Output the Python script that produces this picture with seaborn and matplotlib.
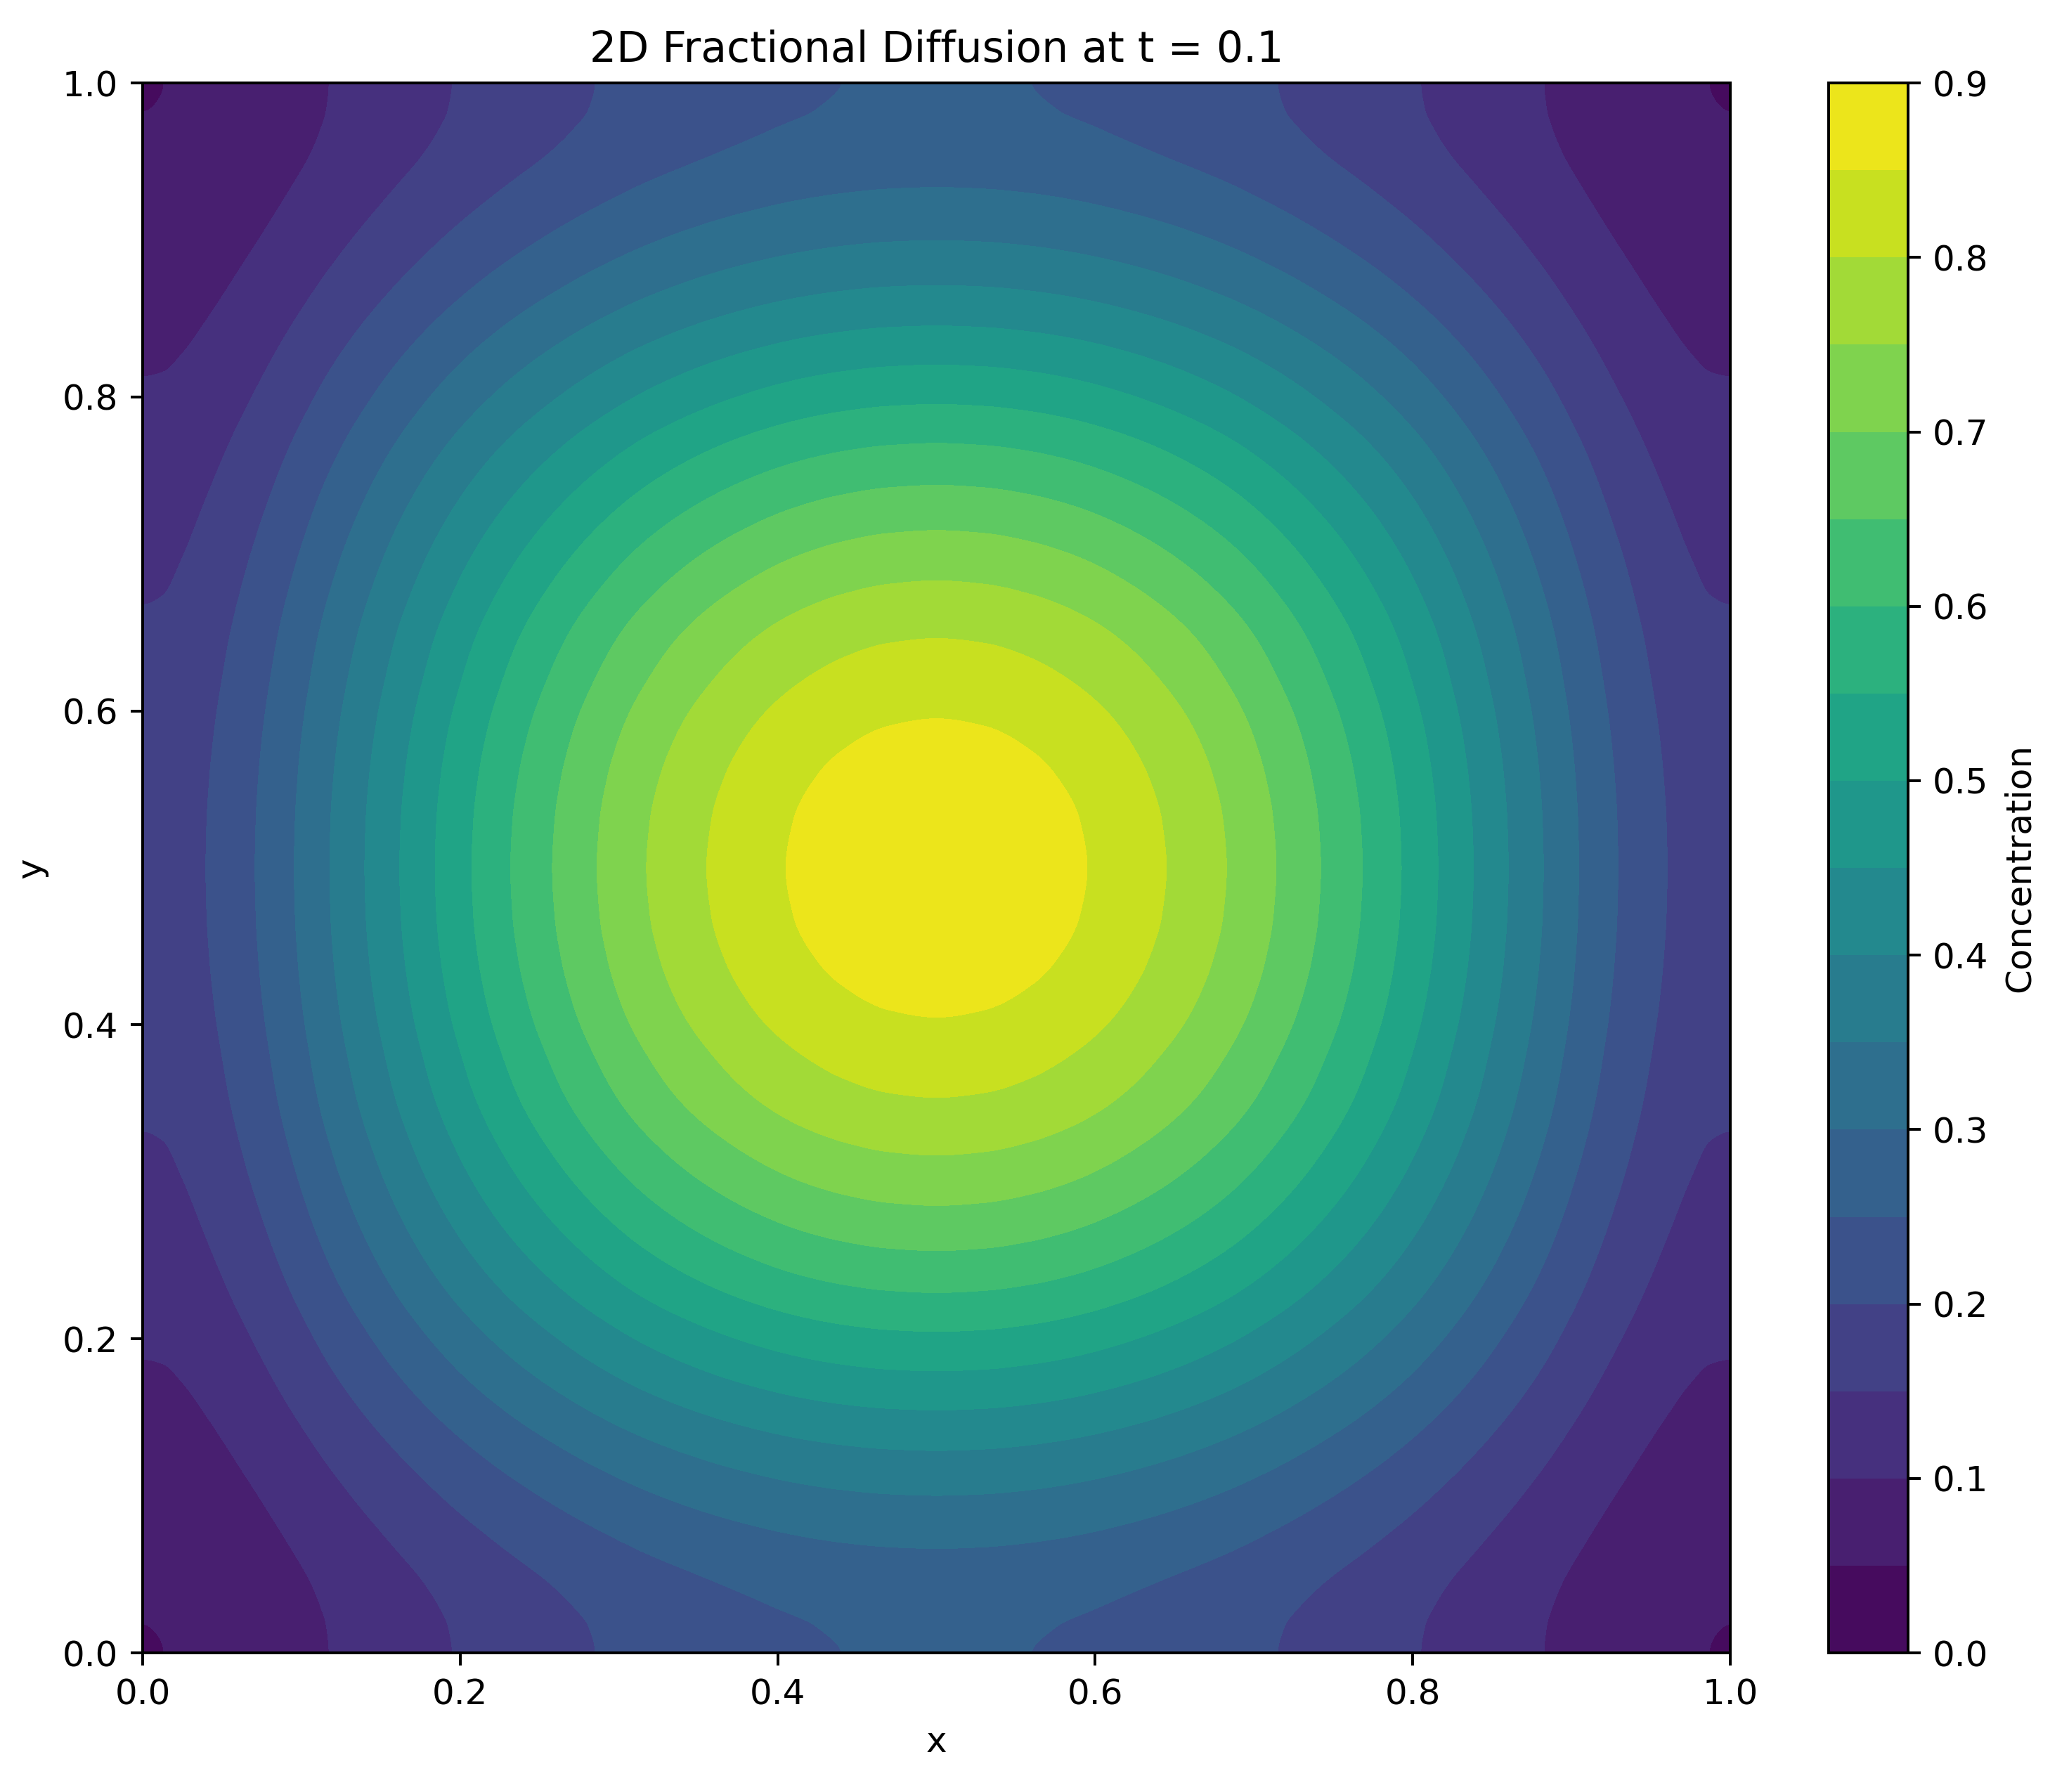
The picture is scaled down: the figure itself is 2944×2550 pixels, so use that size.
import numpy as np
import matplotlib
matplotlib.use("Agg")
import matplotlib.pyplot as plt
import seaborn as sns

# Concentration read off the picture along the centre row (y = 0.5),
# given by distance from x = 0.5 (contour crossings plus flat top / edge values)
row_offset = [0.0, 0.03, 0.06, 0.078, 0.0949, 0.12, 0.1448, 0.1827, 0.2139,
              0.2420, 0.2683, 0.2928, 0.3159, 0.3382, 0.3602, 0.3823, 0.4046,
              0.4293, 0.4603, 0.475, 0.4872, 0.5]
row_conc = [0.8877, 0.8839, 0.8727, 0.8623, 0.85, 0.827, 0.80, 0.75, 0.70,
            0.65, 0.60, 0.55, 0.50, 0.45, 0.40, 0.35, 0.30,
            0.25, 0.20, 0.183, 0.1744, 0.1725]

# Same along the centre column (x = 0.5), by distance from y = 0.5
col_offset = [0.0, 0.03, 0.06, 0.078, 0.0951, 0.12, 0.1462, 0.1830, 0.2150,
              0.2438, 0.2705, 0.2953, 0.3204, 0.3453, 0.3711, 0.3997, 0.4335,
              0.455, 0.47, 0.4825, 0.5]
col_conc = [0.8877, 0.8839, 0.8727, 0.8623, 0.85, 0.827, 0.80, 0.75, 0.70,
            0.65, 0.60, 0.55, 0.50, 0.45, 0.40, 0.35, 0.30,
            0.275, 0.2636, 0.2571, 0.2543]

peak_conc = 0.8877
contour_levels = np.linspace(0, 0.9, 19)


def smooth_profile(xk, yk, x):
    # monotone cubic through the read points, flat at the centre and at the wall
    xk = np.asarray(xk, float)
    yk = np.asarray(yk, float)
    h = np.diff(xk)
    delta = np.diff(yk) / h
    m = np.zeros_like(yk)
    for k in range(1, len(xk) - 1):
        if delta[k - 1] * delta[k] > 0:
            w1 = 2 * h[k] + h[k - 1]
            w2 = h[k] + 2 * h[k - 1]
            m[k] = (w1 + w2) / (w1 / delta[k - 1] + w2 / delta[k])
    i = np.clip(np.searchsorted(xk, x) - 1, 0, len(xk) - 2)
    t = (x - xk[i]) / h[i]
    h00 = 2 * t**3 - 3 * t**2 + 1
    h10 = t**3 - 2 * t**2 + t
    h01 = -2 * t**3 + 3 * t**2
    h11 = t**3 - t**2
    return (h00 * yk[i] + h10 * h[i] * m[i]
            + h01 * yk[i + 1] + h11 * h[i] * m[i + 1])


# Field on the unit square: the picture is a product of the row and column profiles
grid = np.linspace(0, 1, 801)
px = smooth_profile(row_offset, row_conc, np.abs(grid - 0.5))
py = smooth_profile(col_offset, col_conc, np.abs(grid - 0.5))
X, Y = np.meshgrid(grid, grid)
Z = np.outer(py, px) / peak_conc

cmap = sns.color_palette("viridis", as_cmap=True)

dpi = 360
fig = plt.figure(figsize=(2944 / dpi, 2550 / dpi), dpi=dpi)
ax = fig.add_axes([0.0690, 0.0776, 0.7673, 0.8761])
cax = fig.add_axes([0.8838, 0.0776, 0.0384, 0.8761])

cf = ax.contourf(X, Y, Z, levels=contour_levels, cmap=cmap)
cbar = fig.colorbar(cf, cax=cax)
cbar.set_label('Concentration')

ax.set_title('2D Fractional Diffusion at t = 0.1')
ax.set_xlabel('x')
ax.set_ylabel('y')

fig.savefig('out.png', dpi=dpi)
